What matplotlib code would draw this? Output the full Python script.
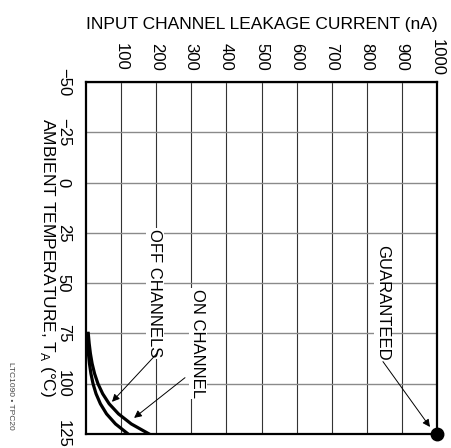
import numpy as np
import matplotlib
matplotlib.use("Agg")
from matplotlib import pyplot as plt

plt.rcParams['font.family'] = ['Liberation Sans', 'DejaVu Sans']
plt.rcParams['mathtext.fontset'] = 'custom'
plt.rcParams['mathtext.rm'] = 'Liberation Sans'

# leakage vs ambient temperature
temp = [75, 80, 85, 90, 95, 100, 105, 110, 115, 120, 125]
on_channel = [6.4, 9, 12.5, 17.4, 24.4, 34, 47.5, 66, 92.5, 129, 180]
off_channels = [3.3, 4.8, 6.8, 9.8, 14, 20, 28.6, 41, 58.5, 84, 120]
guaranteed = (1000, 125)

cur_ticks = [100, 200, 300, 400, 500, 600, 700, 800, 900, 1000]
temp_ticks = [-50, -25, 0, 25, 50, 75, 100, 125]
temp_labels = ['\u221250', '\u221225', '0', '25', '50', '75', '100', '125']

fig = plt.figure(figsize=(4.52, 4.48), dpi=100)
ax = fig.add_axes([0.1903, 0.03125, 0.7765, 0.7857])

ax.set_xlim(0, 1000)
ax.set_ylim(125, -50)

for c in cur_ticks:
    ax.axvline(c, color='#333333', lw=0.8, zorder=1)
for t in temp_ticks:
    ax.axhline(t, color='#8a8a8a', lw=1.0, zorder=1)

ax.plot(off_channels, temp, color='k', lw=2.3, zorder=3)
ax.plot(on_channel, temp, color='k', lw=2.3, zorder=3)
ax.plot(*guaranteed, 'o', color='k', ms=9, clip_on=False, zorder=5)

ax.xaxis.tick_top()
ax.set_xticks(cur_ticks)
ax.set_xticklabels([str(c) for c in cur_ticks], rotation=-90, fontsize=12,
                   va='center')
ax.set_yticks(temp_ticks)
ax.set_yticklabels(temp_labels, rotation=-90, fontsize=12, va='center')
ax.tick_params(axis='x', length=0, pad=18)
ax.tick_params(axis='y', length=0, pad=11)
for s in ax.spines.values():
    s.set_linewidth(1.6)

ax.set_ylabel('AMBIENT TEMPERATURE, T$_\\mathregular{A}$ (\u00b0C)',
              rotation=-90, fontsize=12.5, labelpad=6, va='center')
fig.text(0.58, 0.945, 'INPUT CHANNEL LEAKAGE CURRENT (nA)', fontsize=12.5,
         ha='center', va='center')
fig.text(0.024, 0.116, 'LTC1090 \u2022 TPC20', rotation=-90, fontsize=6,
         ha='center', va='center', color='#444444')

box = dict(facecolor='white', edgecolor='none', pad=1)
arrow = dict(arrowstyle='-|>', color='k', lw=0.7, mutation_scale=11,
             shrinkA=0, shrinkB=0)

ax.text(196, 55, 'OFF CHANNELS', rotation=-90, fontsize=12,
        ha='center', va='center', bbox=box, zorder=4)
ax.annotate('', xy=(74, 109), xytext=(202, 85), arrowprops=arrow, zorder=4)

ax.text(319, 80, 'ON CHANNEL', rotation=-90, fontsize=12,
        ha='center', va='center', bbox=box, zorder=4)
ax.annotate('', xy=(137, 117), xytext=(282, 97), arrowprops=arrow, zorder=4)

ax.text(846, 60, 'GUARANTEED', rotation=-90, fontsize=12,
        ha='center', va='center', bbox=box, zorder=4)
ax.annotate('', xy=(980, 121.5), xytext=(846, 89), arrowprops=arrow, zorder=4)

fig.savefig('out.png', dpi=100)
